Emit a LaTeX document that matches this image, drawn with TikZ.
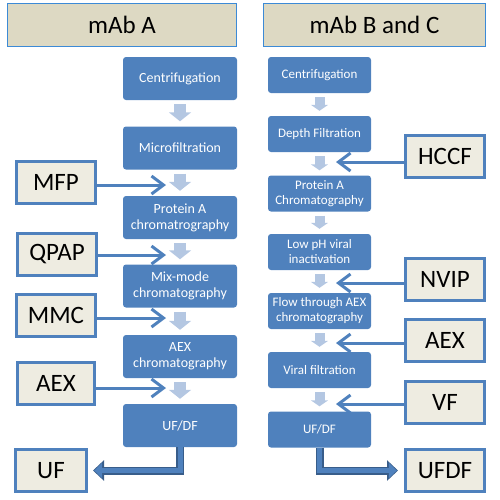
\documentclass[tikz,border=0pt]{standalone}
\usepackage{fontspec}
\setmainfont{Carlito}
\usetikzlibrary{arrows.meta}
\definecolor{stepblue}{HTML}{4F81BD}
\definecolor{flowgray}{HTML}{B4C7E2}
\definecolor{tagfill}{HTML}{EEECE1}
\definecolor{headfill}{HTML}{DDD9C3}
\definecolor{headline}{HTML}{3C8AD6}
\definecolor{bendline}{HTML}{385D8A}

\begin{document}
\begin{tikzpicture}[x=1pt,y=-1pt,
    head/.style={draw=headline,line width=1.4pt,fill=headfill,minimum height=43pt,font=\fontsize{25}{28}\selectfont},
    stepA/.style={rounded corners=3pt,fill=stepblue,text=white,minimum width=114pt,minimum height=43pt,align=center,inner sep=1pt,font=\fontsize{14}{16}\selectfont},
    stepB/.style={stepA,minimum width=103pt,minimum height=36pt,font=\fontsize{13}{15}\selectfont},
    tag/.style={draw=stepblue,line width=3pt,fill=tagfill,minimum width=79pt,minimum height=42pt,font=\fontsize{25}{28}\selectfont},
    flowA/.style={draw=flowgray,line width=12pt,-{Triangle[length=9pt,width=22pt]},shorten <=4pt,shorten >=5pt},
    flowB/.style={flowA,line width=10pt,-{Triangle[length=6pt,width=17pt]}},
    feed/.style={draw=stepblue,line width=3pt,-{Straight Barb[length=12pt,width=18pt]}},
    outarrow/.style={draw=stepblue,line width=5pt,-{Triangle[length=8pt,width=15pt,sep=1.2pt]},
      preaction={draw=bendline,line width=8pt,-{Triangle[length=11pt,width=20pt]}}}]
  \useasboundingbox (0,0) rectangle (500,499);

  % headers
  \node[head,minimum width=229pt] (hA) at (122,25) {mAb A};
  \node[head,minimum width=222pt] (hB) at (374.5,25) {mAb B and C};

  % mAb A steps
  \node[stepA] (cenA) at (180,78.5) {Centrifugation};
  \node[stepA] (mfA) at (180,148) {Microfiltration};
  \node[stepA] (proA) at (180,217.5) {Protein A\\chromatrography};
  \node[stepA] (mmA) at (180,286) {Mix-mode\\chromatography};
  \node[stepA] (aexA) at (180,356.5) {AEX\\chromatography};
  \node[stepA] (ufA) at (180,425.5) {UF/DF};

  % mAb B and C steps
  \node[stepB] (cenB) at (319.5,75) {Centrifugation};
  \node[stepB] (dfB) at (319.5,134) {Depth Filtration};
  \node[stepB] (proB) at (319.5,193.5) {Protein A\\Chromatography};
  \node[stepB] (vinB) at (319.5,252) {Low pH viral\\inactivation};
  \node[stepB] (fteB) at (319.5,311) {Flow through AEX\\chromatography};
  \node[stepB] (vfB) at (319.5,370) {Viral filtration};
  \node[stepB] (ufB) at (319.5,429.5) {UF/DF};

  \draw[flowA] (cenA) -- (mfA);
  \draw[flowA] (mfA) -- (proA);
  \draw[flowA] (proA) -- (mmA);
  \draw[flowA] (mmA) -- (aexA);
  \draw[flowA] (aexA) -- (ufA);
  \draw[flowB] (cenB) -- (dfB);
  \draw[flowB] (dfB) -- (proB);
  \draw[flowB] (proB) -- (vinB);
  \draw[flowB] (vinB) -- (fteB);
  \draw[flowB] (fteB) -- (vfB);
  \draw[flowB] (vfB) -- (ufB);

  % sample tags
  \node[tag] (mfp) at (56,182) {MFP};
  \node[tag] (qpap) at (57,254) {QPAP};
  \node[tag] (mmc) at (56,315.5) {MMC};
  \node[tag,minimum width=77pt] (aexL) at (56,383.5) {AEX};
  \node[tag,minimum width=71pt] (uf) at (51,470.5) {UF};
  \node[tag] (hccf) at (445,156.5) {HCCF};
  \node[tag] (nvip) at (445,279.5) {NVIP};
  \node[tag] (aexR) at (445,340.5) {AEX};
  \node[tag] (vf) at (445,402) {VF};
  \node[tag] (ufdf) at (445,470.5) {UFDF};

  \coordinate (mfpT) at (166,185);
  \coordinate (qpapT) at (166,255);
  \coordinate (mmcT) at (166,318);
  \coordinate (aexLT) at (166,388);
  \coordinate (hccfT) at (336,162);
  \coordinate (nvipT) at (336,283);
  \coordinate (aexRT) at (336,343);
  \coordinate (vfT) at (336,404);

  \draw[feed] (mfp.east |- mfpT) -- (mfpT);
  \draw[feed] (qpap.east |- qpapT) -- (qpapT);
  \draw[feed] (mmc.east |- mmcT) -- (mmcT);
  \draw[feed] (aexL.east |- aexLT) -- (aexLT);
  \draw[feed] (hccf.west |- hccfT) -- (hccfT);
  \draw[feed] (nvip.west |- nvipT) -- (nvipT);
  \draw[feed] (aexR.west |- aexRT) -- (aexRT);
  \draw[feed] (vf.west |- vfT) -- (vfT);

  \draw[outarrow,shorten >=5pt] (ufA.south) |- (uf.east);
  \draw[outarrow,shorten >=6pt] (ufB.south) |- (ufdf.west);
\end{tikzpicture}
\end{document}
